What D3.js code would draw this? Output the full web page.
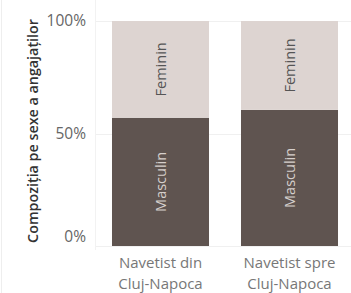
<!DOCTYPE html>
<html>
<head>
<meta charset="utf-8">
<script src="https://cdn.jsdelivr.net/npm/d3@7"></script>
<style>
  body { margin: 0; background: #fff; }
  svg { display: block; font-family: "Open Sans", "Noto Sans", sans-serif; }
</style>
</head>
<body>
<div id="chart"></div>
<script>
// categories and shares
const categories = [["Navetist din", "Cluj-Napoca"], ["Navetist spre", "Cluj-Napoca"]];
const masculin = [0.57, 0.605];
const feminin = [0.43, 0.395];
const yTicks = [0, 0.5, 1];

const width = 351, height = 293;
const svg = d3.select('#chart').append('svg')
  .attr('width', width)
  .attr('height', height);

const x = d3.scaleBand()
  .domain(d3.range(categories.length))
  .range([96, 354])
  .paddingInner(0.248)
  .paddingOuter(0.124);

const y = d3.scaleLinear()
  .domain([0, 1])
  .range([246, 21]);

// faint left-edge remnant of neighbouring panel
svg.append('line')
  .attr('x1', 1.5).attr('x2', 1.5)
  .attr('y1', 0).attr('y2', height)
  .attr('stroke', '#eeeeee');

// gridlines
svg.selectAll('.grid')
  .data(yTicks)
  .join('line')
  .attr('class', 'grid')
  .attr('x1', 96).attr('x2', width)
  .attr('y1', d => Math.round(y(d)) + 0.5)
  .attr('y2', d => Math.round(y(d)) + 0.5)
  .attr('stroke', '#f0f0f0');

// y axis divider
svg.append('line')
  .attr('x1', 95.5).attr('x2', 95.5)
  .attr('y1', 0).attr('y2', 250)
  .attr('stroke', '#f2f2f2');

// tick labels (Tableau nudges the bottom label up)
svg.selectAll('.tick-label')
  .data(yTicks)
  .join('text')
  .attr('class', 'tick-label')
  .attr('x', 86)
  .attr('y', d => d === 0 ? y(d) - 9 : y(d))
  .attr('dy', '0.35em')
  .attr('text-anchor', 'end')
  .attr('font-size', 15.5)
  .attr('fill', '#666')
  .text(d3.format('.0%'));

// axis title
svg.append('text')
  .attr('transform', 'translate(38,131) rotate(-90)')
  .attr('text-anchor', 'middle')
  .attr('font-size', 14.3)
  .attr('font-weight', 600)
  .attr('fill', '#333')
  .text('Compoziția pe sexe a angajaților');

// bars: masculin at bottom
svg.selectAll('.bar-m')
  .data(masculin)
  .join('rect')
  .attr('class', 'bar-m')
  .attr('x', (d, i) => x(i))
  .attr('width', x.bandwidth())
  .attr('y', d => y(d))
  .attr('height', d => y(0) - y(d))
  .attr('fill', '#5f5450');

svg.selectAll('.bar-f')
  .data(feminin)
  .join('rect')
  .attr('class', 'bar-f')
  .attr('x', (d, i) => x(i))
  .attr('width', x.bandwidth())
  .attr('y', (d, i) => y(masculin[i] + d))
  .attr('height', (d, i) => y(masculin[i]) - y(masculin[i] + d))
  .attr('fill', '#ddd4d1');

// segment labels
const cx = i => x(i) + x.bandwidth() / 2;
svg.selectAll('.lab-m')
  .data(masculin)
  .join('text')
  .attr('class', 'lab-m')
  .attr('transform', (d, i) => `translate(${cx(i) + 5},${y(d / 2)}) rotate(-90)`)
  .attr('text-anchor', 'middle')
  .attr('font-size', 14.5)
  .attr('fill', '#d6cfcc')
  .text('Masculin');

svg.selectAll('.lab-f')
  .data(feminin)
  .join('text')
  .attr('class', 'lab-f')
  .attr('transform', (d, i) => `translate(${cx(i) + 5},${y(masculin[i] + d / 2)}) rotate(-90)`)
  .attr('text-anchor', 'middle')
  .attr('font-size', 14.5)
  .attr('fill', '#555')
  .text('Feminin');

// category labels
const cat = svg.selectAll('.cat')
  .data(categories)
  .join('text')
  .attr('class', 'cat')
  .attr('text-anchor', 'middle')
  .attr('font-size', 15)
  .attr('fill', '#777');
cat.selectAll('tspan')
  .data(d => d)
  .join('tspan')
  .attr('x', function () { return cx(categories.indexOf(d3.select(this.parentNode).datum())); })
  .attr('y', (d, j) => 268 + j * 20.5)
  .text(d => d);
</script>
</body>
</html>
